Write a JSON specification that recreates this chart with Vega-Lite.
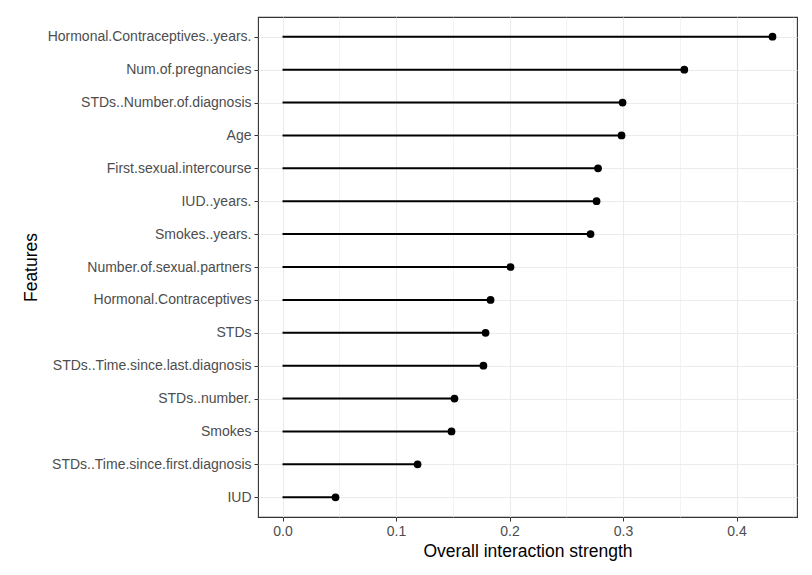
{
  "$schema": "https://vega.github.io/schema/vega-lite/v6.json",
  "autosize": "none",
  "padding": {"left": 258, "top": 17, "right": 15, "bottom": 58},
  "width": 539,
  "height": 500,
  "background": "white",
  "config": {
    "font": "Liberation Sans",
    "view": {"stroke": "#333333", "strokeWidth": 1.1}
  },
  "data": {
    "values": [
      {"feature": "Hormonal.Contraceptives..years.", "value": 0.4317},
      {"feature": "Num.of.pregnancies", "value": 0.354},
      {"feature": "STDs..Number.of.diagnosis", "value": 0.2996},
      {"feature": "Age", "value": 0.2987},
      {"feature": "First.sexual.intercourse", "value": 0.278},
      {"feature": "IUD..years.", "value": 0.2767},
      {"feature": "Smokes..years.", "value": 0.2714},
      {"feature": "Number.of.sexual.partners", "value": 0.2009},
      {"feature": "Hormonal.Contraceptives", "value": 0.1833},
      {"feature": "STDs", "value": 0.1789},
      {"feature": "STDs..Time.since.last.diagnosis", "value": 0.177},
      {"feature": "STDs..number.", "value": 0.1515},
      {"feature": "Smokes", "value": 0.1489},
      {"feature": "STDs..Time.since.first.diagnosis", "value": 0.119},
      {"feature": "IUD", "value": 0.0467}
    ]
  },
  "encoding": {
    "y": {
      "field": "feature",
      "type": "nominal",
      "sort": null,
      "scale": {"type": "point", "padding": 0.6},
      "axis": {
        "title": "Features",
        "titleFontSize": 17.5,
        "titleFontWeight": "normal",
        "titleColor": "black",
        "titlePadding": 18,
        "labelFontSize": 14,
        "labelLimit": 0,
        "labelColor": "#4d4d4d",
        "labelPadding": 3,
        "tickColor": "#333333",
        "tickSize": 4,
        "domain": false,
        "grid": true,
        "gridColor": "#ebebeb",
        "gridWidth": 1.1
      }
    },
    "x": {
      "field": "value",
      "type": "quantitative",
      "scale": {"domain": [-0.0216, 0.4533], "nice": false, "zero": false},
      "axis": {
        "title": "Overall interaction strength",
        "titleFontSize": 17.5,
        "titleFontWeight": "normal",
        "titleColor": "black",
        "titlePadding": 4,
        "values": [0, 0.05, 0.1, 0.15, 0.2, 0.25, 0.3, 0.35, 0.4, 0.45],
        "labelExpr": "round(datum.value*100) % 10 == 0 ? format(datum.value, '.1f') : ''",
        "labelFontSize": 14,
        "labelColor": "#4d4d4d",
        "labelPadding": 3,
        "labelFlush": false,
        "tickColor": "#333333",
        "tickSize": 4,
        "tickOpacity": {"condition": {"test": "round(datum.value*100) % 10 == 0", "value": 1}, "value": 0},
        "domain": false,
        "grid": true,
        "gridColor": "#ebebeb",
        "gridWidth": {"condition": {"test": "round(datum.value*100) % 10 == 0", "value": 1.1}, "value": 0.6}
      }
    }
  },
  "layer": [
    {
      "mark": {"type": "rule", "color": "black", "strokeWidth": 2},
      "encoding": {
        "x2": {"datum": 0}
      }
    },
    {
      "mark": {"type": "circle", "color": "black", "opacity": 1, "size": 60},
      "encoding": {}
    }
  ]
}
